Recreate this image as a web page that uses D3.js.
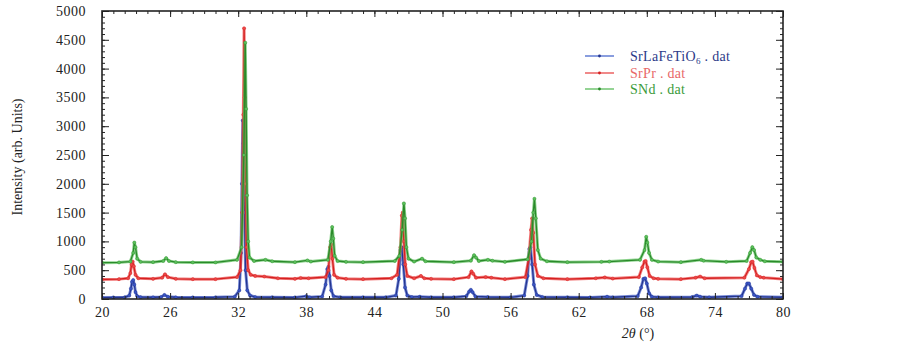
<!DOCTYPE html>
<html><head><meta charset="utf-8">
<script src="https://cdn.jsdelivr.net/npm/d3@7"></script>
<style>
body{margin:0;background:#fff;}
text{font-family:"Liberation Serif","Times New Roman",serif;}
</style></head>
<body><svg id="c" width="902" height="343"></svg>
<script>
// ---- data (2θ, intensity) ----
const seriesNames = ["SrLaFeTiO6 . dat", "SrPr . dat", "SNd . dat"];
const srLaFeTiO6 = [
[20,25],[21,28],[22,30],[22.4,60],[22.55,180],[22.65,300],[22.75,330],[22.85,250],[22.95,120],[23.1,50],[23.4,32],
[24.5,30],[25.2,35],[25.5,70],[25.8,40],[26.5,30],[28,28],[30,30],[31.7,40],[32.1,150],[32.25,800],[32.33,2000],
[32.4,3100],[32.47,2700],[32.55,1500],[32.65,500],[32.8,150],[33.05,60],[33.5,35],[35,30],[37,28],[38,50],[38.3,30],
[39.4,45],[39.7,250],[39.85,520],[39.95,560],[40.05,400],[40.2,150],[40.4,50],[41,30],[43,30],[45,30],[45.9,60],
[46.15,350],[46.3,850],[46.4,900],[46.55,600],[46.7,200],[46.9,60],[47.3,35],[48,40],[49,30],[51,30],[52.1,50],
[52.35,130],[52.5,160],[52.65,120],[52.9,45],[54,35],[56,30],[57.2,60],[57.5,400],[57.65,870],[57.75,900],[57.9,600],
[58.05,250],[58.3,70],[58.8,35],[61,30],[63,28],[64.5,40],[65,30],[67.2,50],[67.5,200],[67.7,350],[67.85,360],
[68,270],[68.2,100],[68.45,40],[69,30],[72,35],[72.4,60],[72.7,40],[73.5,30],[76.35,50],[76.65,180],[76.85,270],
[77,270],[77.2,180],[77.45,70],[77.75,40],[80,30]];
const srPr = [
[20,340],[21.5,345],[22.3,360],[22.5,450],[22.6,600],[22.7,650],[22.8,570],[22.95,420],[23.2,360],[24.5,350],
[25.3,370],[25.55,430],[25.8,380],[26.5,350],[28,345],[30,345],[31.9,380],[32.2,500],[32.35,1500],[32.45,3200],
[32.52,4700],[32.58,3500],[32.65,2000],[32.73,900],[32.88,500],[33.1,420],[33.5,400],[34.3,390],[35.5,360],[37,350],
[37.5,365],[38.2,360],[39.7,380],[39.95,500],[40.1,900],[40.2,950],[40.3,700],[40.45,420],[40.75,370],[41.5,350],
[43,345],[45.5,360],[46,420],[46.3,900],[46.42,1450],[46.5,1500],[46.6,1000],[46.72,600],[46.9,400],[47.5,360],
[48.1,400],[48.4,360],[49,350],[51,345],[52.3,380],[52.55,480],[52.7,440],[52.95,370],[53.8,380],[54.3,370],
[55.5,345],[57.3,380],[57.6,700],[57.8,1200],[57.9,1400],[58,1150],[58.15,600],[58.4,400],[58.9,360],[61,345],
[63.5,360],[64.3,375],[65,355],[67.3,380],[67.6,550],[67.8,650],[67.9,660],[68.05,550],[68.25,400],[68.6,360],
[69,350],[71,345],[72.3,370],[72.7,390],[73.1,360],[76.6,370],[77,520],[77.2,640],[77.32,650],[77.48,540],
[77.7,410],[78,380],[78.3,370],[80,345]];
const sNd = [
[20,630],[21.5,635],[22.5,650],[22.75,800],[22.85,980],[22.95,900],[23.1,700],[23.4,645],[24.5,640],[25.4,660],
[25.65,710],[25.9,660],[26.5,640],[28,635],[30,635],[31.9,680],[32.3,900],[32.5,2500],[32.62,4450],[32.7,3300],
[32.78,1800],[32.88,1000],[33,720],[33.4,660],[34.4,680],[35,655],[37,640],[38.1,670],[38.4,650],[39.9,680],
[40.15,1000],[40.28,1250],[40.38,1050],[40.5,750],[40.75,660],[41.5,645],[43,640],[45.8,660],[46.2,750],[46.45,1200],
[46.6,1660],[46.7,1400],[46.82,900],[47,700],[47.5,650],[48.2,700],[48.5,655],[51,640],[52.5,665],[52.78,760],
[52.95,720],[53.2,660],[54,680],[54.4,665],[55.5,645],[57.5,690],[57.85,1000],[58,1500],[58.1,1740],[58.22,1400],
[58.4,850],[58.65,700],[59.2,655],[61,640],[64,645],[64.7,650],[67.4,680],[67.8,850],[67.95,1080],[68.05,980],
[68.2,800],[68.45,680],[69,650],[71,640],[72.8,680],[73,665],[75,645],[76.8,660],[77.1,800],[77.3,900],[77.45,850],
[77.65,720],[78,680],[78.4,655],[80,645]];
const xTickValues = [20,26,32,38,44,50,56,62,68,74,80];
const yTickValues = [0,500,1000,1500,2000,2500,3000,3500,4000,4500,5000];

// ---- drawing ----
const svg = d3.select("#c");
svg.append("rect").attr("width",902).attr("height",343).attr("fill","#fff");
const L=102,R=783,T=11,B=299;
const x = d3.scaleLinear().domain([20,80]).range([L,R]);
const y = d3.scaleLinear().domain([0,5000]).range([B,T]);

svg.append("clipPath").attr("id","clip").append("rect")
  .attr("x",L).attr("y",T).attr("width",R-L).attr("height",B-T);

const series = [
  {data:srLaFeTiO6, line:"#24358f", mark:"#3a55c4", leg:"#4a68cc", txt:"#2c3a88"},
  {data:srPr, line:"#d42020", mark:"#ec4848", leg:"#e84a4a", txt:"#e86868"},
  {data:sNd, line:"#2a8a2a", mark:"#5cc05c", leg:"#5abb5a", txt:"#3a9a3a"}
];
const line = d3.line().x(d=>x(d[0])).y(d=>y(d[1]));
const g = svg.append("g").attr("clip-path","url(#clip)");
series.forEach(s=>{
  g.append("path").datum(s.data).attr("d",line).attr("fill","none")
    .attr("stroke",s.mark).attr("stroke-width",3).attr("stroke-linejoin","round").attr("opacity",0.7);
  g.append("path").datum(s.data).attr("d",line).attr("fill","none")
    .attr("stroke",s.line).attr("stroke-width",1.3).attr("stroke-linejoin","round");
  g.selectAll(null).data(s.data).enter().append("circle")
    .attr("cx",d=>x(d[0])).attr("cy",d=>y(d[1])).attr("r",1.6)
    .attr("fill",s.mark).attr("stroke",s.line).attr("stroke-width",0.4);
});

// axes (ticks pointing inward, mirrored)
const axCol="#222";
const fmt = d3.format("d");
function styleAxis(sel){ sel.select(".domain").remove(); sel.selectAll("line").attr("stroke",axCol).attr("stroke-width",1); sel.selectAll("text").attr("fill","#222").style("font-size","14px").style("letter-spacing","0.5px"); }
const xMinor = d3.range(20,81,1);
const yMinor = d3.range(0,5001,100);
// bottom
svg.append("g").attr("transform",`translate(0,${B})`).call(d3.axisBottom(x).tickValues(xMinor).tickSize(-3).tickFormat("")).call(styleAxis);
svg.append("g").attr("transform",`translate(0,${B})`).call(d3.axisBottom(x).tickValues(xTickValues).tickSize(-6).tickPadding(8).tickFormat(fmt)).call(styleAxis);
// top
svg.append("g").attr("transform",`translate(0,${T})`).call(d3.axisTop(x).tickValues(xMinor).tickSize(-3).tickFormat("")).call(styleAxis);
svg.append("g").attr("transform",`translate(0,${T})`).call(d3.axisTop(x).tickValues(xTickValues).tickSize(-6).tickFormat("")).call(styleAxis);
// left
svg.append("g").attr("transform",`translate(${L},0)`).call(d3.axisLeft(y).tickValues(yMinor).tickSize(-3).tickFormat("")).call(styleAxis);
svg.append("g").attr("transform",`translate(${L},0)`).call(d3.axisLeft(y).tickValues(yTickValues).tickSize(-7).tickPadding(16).tickFormat(fmt)).call(styleAxis);
// right
svg.append("g").attr("transform",`translate(${R},0)`).call(d3.axisRight(y).tickValues(yMinor).tickSize(-3).tickFormat("")).call(styleAxis);
svg.append("g").attr("transform",`translate(${R},0)`).call(d3.axisRight(y).tickValues(yTickValues).tickSize(-7).tickFormat("")).call(styleAxis);
// frame
svg.append("rect").attr("x",L).attr("y",T).attr("width",R-L).attr("height",B-T)
  .attr("fill","none").attr("stroke",axCol).attr("stroke-width",1.6);

// axis titles
svg.append("text").attr("transform","translate(22,157) rotate(-90)").attr("text-anchor","middle")
  .style("font-size","14px").attr("fill","#222").text("Intensity (arb. Units)");
const xt = svg.append("text").attr("x",638).attr("y",338).attr("text-anchor","middle")
  .style("font-size","14px").attr("fill","#222");
xt.append("tspan").style("font-style","italic").text("2θ");
xt.append("tspan").text(" (°)");

// legend
const legY=[56,73,89];
series.forEach((s,i)=>{
  svg.append("line").attr("x1",585).attr("x2",614).attr("y1",legY[i]).attr("y2",legY[i])
    .attr("stroke",s.leg).attr("stroke-width",1.3);
  svg.append("circle").attr("cx",599.5).attr("cy",legY[i]).attr("r",1.4).attr("fill",s.line);
  const t = svg.append("text").attr("x",630).attr("y",legY[i]+5).attr("fill",s.txt)
    .style("font-size","14px").style("letter-spacing","0.3px");
  if(i===0){
    t.append("tspan").text("SrLaFeTiO");
    t.append("tspan").attr("dy",3).style("font-size","9px").text("6");
    t.append("tspan").attr("dy",-3).text(" . dat");
  } else t.text(seriesNames[i]);
});
</script></body></html>
